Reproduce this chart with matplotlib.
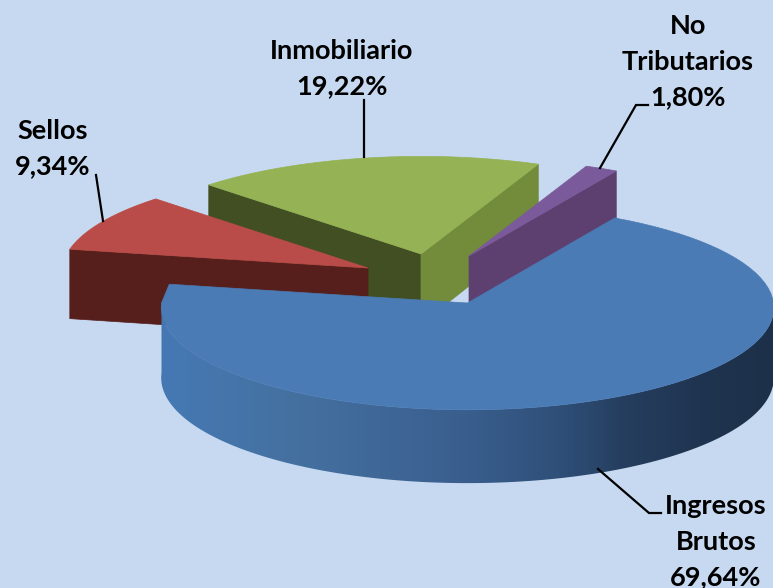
#!/usr/bin/env python3
# 3D style exploded pie, drawn by hand because matplotlib has no 3D pie
import numpy as np
import matplotlib
matplotlib.use("Agg")
import matplotlib.pyplot as plt
from matplotlib.colors import to_rgb
from matplotlib.patches import Polygon

categories = ["Ingresos\nBrutos", "Sellos", "Inmobiliario", "No\nTributarios"]
values = [69.64, 9.34, 19.22, 1.80]

START = 60.0      # where the first slice starts, degrees
RX, RY = 306, 102
DEPTH = 70
K = 0.045         # perspective

centers = [(467.5, 303), (368, 268), (421, 254), (469, 256)]
top_colors = ["#4a7bb5", "#b94c48", "#95b255", "#7a5a9a"]
side_colors = [None, "#561f1c", "#424f22", "#5d4070"]
green_right = "#728c3c"

# blue rim shading, left to right
rim_x = [160, 300, 460, 560, 620, 700, 773]
rim_c = ["#4679b4", "#44709f", "#3a5f8f", "#2f4f78", "#263f60", "#1f3450", "#1d3049"]

label_pos = [(716, 506), (53, 131), (342, 51), (688, 26)]
leaders = [
    [(598, 469), (649, 513), (661, 513)],
    [(96, 175), (103, 221)],
    [(364, 100), (364, 157)],
    [(600, 168), (636, 105), (648, 105)],
]


def rim(cx, cy, deg, drop=0.0):
    t = np.radians(deg)
    y = np.sin(t)
    s = 1 / (1 + K * y)
    return cx + RX * np.cos(t) * s, cy - RY * y * s + drop * s


def wedge(cx, cy, a0, a1):
    ts = np.linspace(a0, a1, 80)
    xs, ys = rim(cx, cy, ts)
    return np.r_[cx, xs], np.r_[cy, ys]


def radial_face(cx, cy, deg, color, z):
    x, y = rim(cx, cy, deg)
    xb, yb = rim(cx, cy, deg, DEPTH)
    ax.fill([cx, x, xb, cx], [cy, y, yb, cy + DEPTH], color=color, lw=0.5, zorder=z)


# slice limits, clockwise from START
edges = START - np.cumsum([0] + values) * 3.6

fig = plt.figure(figsize=(7.73, 5.88), dpi=100, facecolor="#c6d9f0")
ax = fig.add_axes([0, 0, 1, 1])
ax.axis("off")

# back to front: green, red, purple, blue
cx, cy = centers[2]
radial_face(cx, cy, edges[2], side_colors[2], 1)
radial_face(cx, cy, edges[3], green_right, 1)
xs, ys = wedge(cx, cy, edges[3], edges[2])
ax.fill(xs, ys, color=top_colors[2], lw=0.5, zorder=1)

cx, cy = centers[1]
radial_face(cx, cy, edges[1], side_colors[1], 2)
xs, ys = wedge(cx, cy, edges[2], edges[1])
ax.fill(xs, ys, color=top_colors[1], lw=0.5, zorder=2)

cx, cy = centers[3]
radial_face(cx, cy, edges[4] + 360, side_colors[3], 3)
xs, ys = wedge(cx, cy, edges[4] + 360, edges[3] + 360)
ax.fill(xs, ys, color=top_colors[3], lw=0.5, zorder=3)

# blue slice with its shaded rim, gradient image clipped to the rim shape
cx, cy = centers[0]
ts = np.linspace(180, 360, 300)
x_top, y_top = rim(cx, cy, ts)
x_bot, y_bot = rim(cx, cy, ts, DEPTH)
shape = Polygon(np.c_[np.r_[x_top, x_bot[::-1]], np.r_[y_top, y_bot[::-1]]],
                closed=True, transform=ax.transData, fc="none", ec="none")
ax.add_patch(shape)
rgb = np.array([to_rgb(c) for c in rim_c])
grad_x = np.arange(155, 780)
grad = np.stack([np.interp(grad_x, rim_x, rgb[:, i]) for i in range(3)], axis=1)[None, :, :]
im = ax.imshow(grad, extent=[155, 780, 500, 200], aspect="auto", zorder=4, interpolation="bilinear")
im.set_clip_path(shape)
# top surface runs round to the leftmost point, so the corner of the slice stays filled
xs, ys = wedge(cx, cy, edges[0], -180)
xc, yc = rim(cx, cy, edges[1])
ax.fill(np.r_[xs, xc], np.r_[ys, yc], color=top_colors[0], lw=0.5, zorder=4)

ax.set_xlim(0, 773)
ax.set_ylim(588, 0)

# leader lines and labels
for pts in leaders:
    lx, ly = zip(*pts)
    ax.plot(lx, ly, color="black", lw=1.6, zorder=5, solid_joinstyle="miter")

for cat, val, (tx, ty) in zip(categories, values, label_pos):
    lines = cat.split("\n") + [f"{val:.2f}%".replace(".", ",")]
    for i, line in enumerate(lines):
        ax.text(tx, ty + i * 35.5, line, ha="center", va="center", fontsize=19.5,
                fontweight="bold", family="Lato", color="black", zorder=6)

fig.savefig("out.png", dpi=100, facecolor=fig.get_facecolor())
